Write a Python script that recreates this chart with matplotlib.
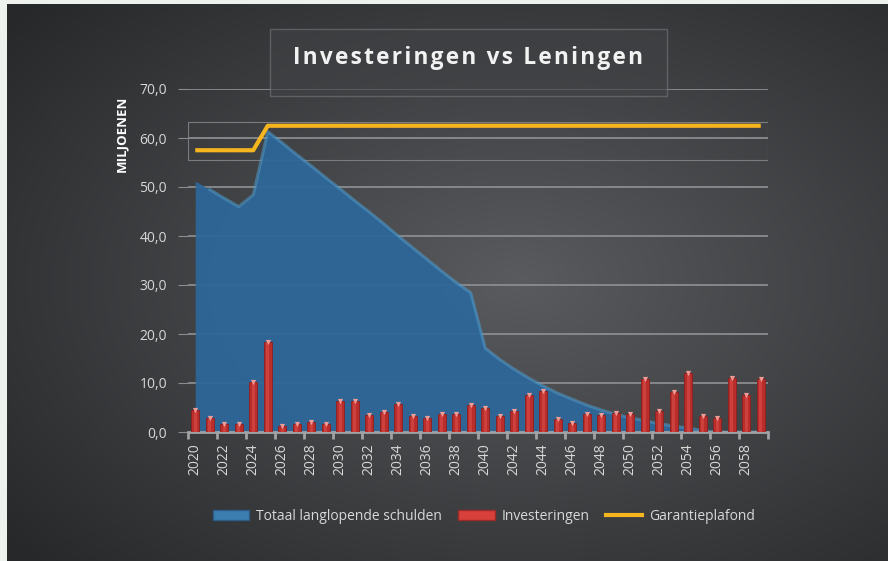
import numpy as np
import matplotlib.pyplot as plt
from matplotlib.patches import Rectangle, Patch
from matplotlib.lines import Line2D

plt.rcParams['font.family'] = ['Open Sans', 'DejaVu Sans']

years = list(range(2020, 2060))

# Totaal langlopende schulden (miljoenen)
schulden = [51.2, 49.5, 47.7, 46.0, 48.4, 61.3, 59.0, 56.6, 54.3, 51.9,
            49.6, 47.2, 44.9, 42.5, 40.0, 37.6, 35.2, 32.8, 30.5, 28.4,
            17.1, 14.8, 12.8, 11.0, 9.4, 7.9, 6.7, 5.5, 4.5, 3.6,
            2.9, 2.3, 1.7, 1.2, 0.8, 0.3, 0.0, 0.0, 0.0, 0.0]

investeringen = [4.5, 2.9, 1.7, 1.7, 10.3, 18.4, 1.3, 1.7, 2.0, 1.6,
                 6.3, 6.3, 3.4, 4.1, 5.7, 3.3, 2.8, 3.7, 3.6, 5.6,
                 5.0, 3.2, 4.2, 7.5, 8.4, 2.6, 1.8, 3.6, 3.4, 3.8,
                 3.6, 10.8, 4.2, 8.2, 12.0, 3.3, 2.9, 11.1, 7.6, 10.9]

plafond = [57.5] * 5 + [62.5] * 35

x = np.arange(len(years))

fig = plt.figure(figsize=(8.88, 5.61), dpi=100)
fig.patch.set_facecolor('#eef2ef')

# dark radial background
bg = fig.add_axes([7 / 888, 0, 881 / 888, 557 / 561])
gx, gy = np.meshgrid(np.linspace(0, 1, 300), np.linspace(0, 1, 200))
r = np.sqrt(((gx - 0.58) / 0.75) ** 2 + ((gy - 0.5) / 0.75) ** 2)
r = np.clip(r, 0, 1)
c0 = np.array([0x5a, 0x5b, 0x5e]) / 255
c1 = np.array([0x27, 0x28, 0x2a]) / 255
img = c0[None, None, :] * (1 - r[..., None]) + c1[None, None, :] * r[..., None]
bg.imshow(img, aspect='auto', extent=[0, 1, 0, 1], origin='upper')
bg.axis('off')

ax = fig.add_axes([188 / 888, 1 - 432 / 561, 580 / 888, 343 / 561])
ax.set_facecolor('none')
ax.set_xlim(-0.5, len(years) - 0.5)
ax.set_ylim(0, 70)

for v in range(10, 80, 10):
    ax.axhline(v, color='#8a8c8f', lw=1.3, zorder=1)

ax.fill_between(x, schulden, color='#2d6799', alpha=0.95, lw=0, zorder=2)
ax.plot(x[1:], schulden[1:], color='#4f9ccd', lw=2.2, alpha=0.55, zorder=2)

ax.bar(x, investeringen, width=0.55, color='#bb2d2a', edgecolor='#8e1f1e',
       lw=0.6, zorder=3)
ax.bar(x, investeringen, width=0.2, color='#e8615c', alpha=0.4, lw=0, zorder=3)
ax.scatter(x, investeringen, marker='v', s=14, color='#f29a93', lw=0, zorder=4)

ax.plot(x, plafond, color='#f5b51e', lw=3, solid_capstyle='butt', zorder=5)

# faint frame around plafond region
ax.add_patch(Rectangle((-0.5, 55.6), 40, 7.7, fill=False, ec='#7a7c7f',
                       lw=0.8, zorder=1))

for s in ['top', 'right', 'left']:
    ax.spines[s].set_visible(False)
ax.spines['bottom'].set_color('#a0a2a4')
ax.spines['bottom'].set_linewidth(2)

ax.set_yticks(range(0, 80, 10))
ax.set_yticklabels([f'{v:.1f}'.replace('.', ',') for v in range(0, 80, 10)],
                   color='#d8d8d8', fontsize=10)
ax.tick_params(axis='y', length=7, color='#8a8c8f', pad=8)

ax.set_xticks(x[::2])
ax.set_xticklabels([str(y) for y in years[::2]], rotation=90,
                   color='#d8d8d8', fontsize=10)
ax.set_xticks(np.arange(-0.5, 40, 2), minor=True)
ax.tick_params(axis='x', which='major', length=0, pad=8)
ax.tick_params(axis='x', which='minor', length=5, color='#a0a2a4', width=2)

fig.text(122 / 888, 1 - 134 / 561, 'MILJOENEN', rotation=90, ha='center',
         va='center', color='white', fontsize=9.5, fontweight='bold')

# title box
fig.patches.append(Rectangle((270 / 888, 1 - 96 / 561), 397 / 888, 67 / 561,
                             transform=fig.transFigure, fill=True,
                             fc='#404245', ec='#76787b', lw=1, alpha=0.6))
title = '\u200a'.join('Investeringen vs Leningen')
fig.text(468 / 888, 1 - 58 / 561, title, ha='center', va='center',
         color='#f2f2f2', fontsize=16.3, fontweight='bold')

handles = [Patch(fc='#3d7eb0', ec='#2a5c88'),
           Patch(fc='#d8403c', ec='#9a2a28'),
           Line2D([], [], color='#f5b51e', lw=3)]
labels = ['Totaal langlopende schulden', 'Investeringen', 'Garantieplafond']
fig.legend(handles, labels, loc='center', bbox_to_anchor=(484 / 888, 1 - 516 / 561),
           ncol=3, frameon=False, fontsize=10, labelcolor='#d8d8d8',
           handlelength=2.6, handletextpad=0.5, columnspacing=1.2)

fig.savefig('out.png', dpi=100, facecolor=fig.get_facecolor())
